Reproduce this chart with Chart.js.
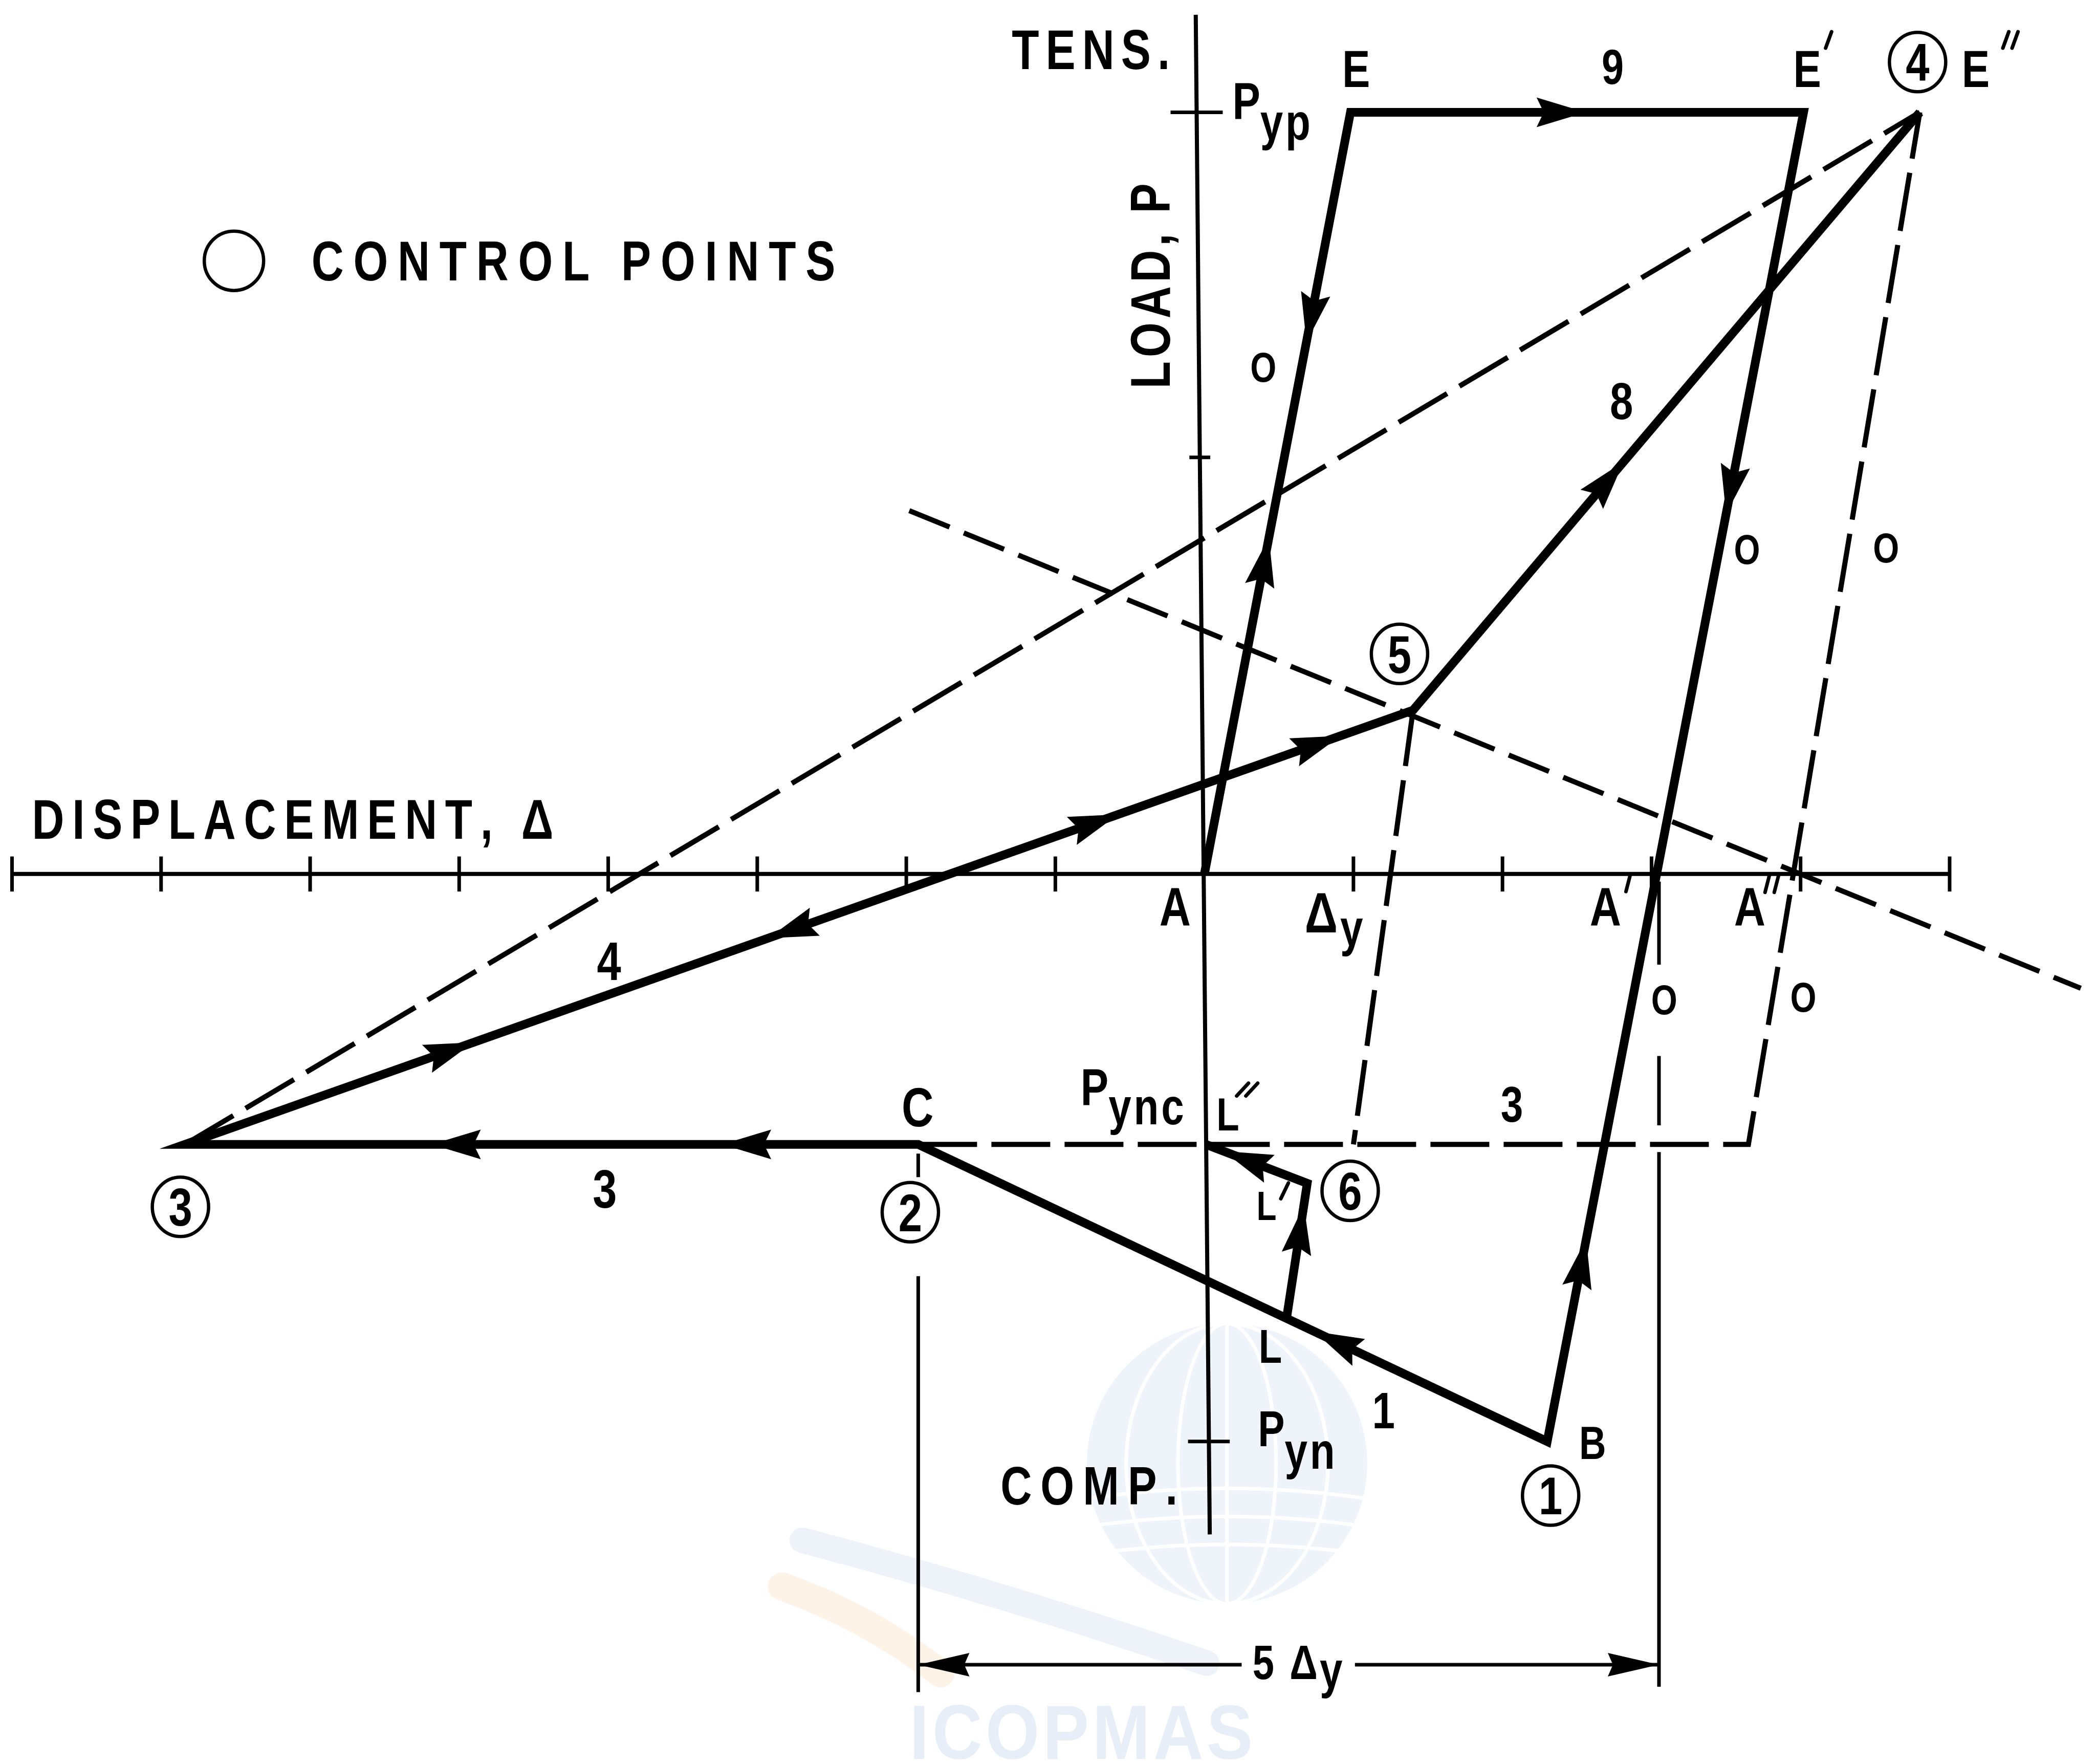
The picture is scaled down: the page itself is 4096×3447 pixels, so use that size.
<!DOCTYPE html>
<html>
<head>
<meta charset="utf-8">
<title>Hysteresis path: load P vs displacement</title>
<style>
    html, body { margin: 0; padding: 0; background: #ffffff; overflow: hidden; }
    canvas { display: block; }
</style>
</head>
<body>
<canvas id="myChart" width="4096" height="3447"></canvas>
<script src="https://cdn.jsdelivr.net/npm/chart.js"></script>
<script>
// displacement in multiples of the yield displacement (Δy), load as a fraction of Pyp

// main path: A, E, E', B (1), C (2), point 3, point 5, E'' (4)
const mainPath = [
    { x: 0.00, y: 0.000 },
    { x: 0.98, y: 1.000 },
    { x: 4.02, y: 1.000 },
    { x: 2.30, y: -0.745 },
    { x: -1.92, y: -0.355 },
    { x: -6.84, y: -0.355 },
    { x: 1.40, y: 0.215 },
    { x: 4.80, y: 1.000 }
];

// partial reload L -> L' (6) -> L''
const innerPath = [
    { x: 0.55, y: -0.585 },
    { x: 0.69, y: -0.406 },
    { x: 0.01, y: -0.355 }
];

// dashed construction lines
const envelopeLine = [{ x: -6.84, y: -0.355 }, { x: 4.80, y: 1.000 }];
const controlLine = [{ x: -1.98, y: 0.477 }, { x: 5.88, y: -0.150 }];
const unloadLine5 = [{ x: 1.40, y: 0.215 }, { x: 1.00, y: -0.355 }];
const pyncLine = [{ x: -1.92, y: -0.355 }, { x: 3.65, y: -0.355 }, { x: 4.80, y: 1.000 }];

// axes
const dispAxis = [{ x: -8, y: 0 }, { x: 5, y: 0 }];
const dispTicks = [-8, -7, -6, -5, -4, -3, -2, -1, 1, 2, 3, 4, 5];
const loadAxis = [{ x: -0.058, y: 1.128 }, { x: 0.036, y: -0.867 }];
const loadTicks = [1.0, 0.547, -0.745];          // Pyp, intermediate, Pyn
const loadTickHalf = [0.175, 0.07, 0.14];

// 5Δy dimension
const dimLeftX = -1.92;
const dimRightX = 3.05;
const dimY = -1.038;
const dimGap = [0.25, 1.01];
const extLeft = [[-0.367, -0.398], [-0.528, -1.074]];
const extRight = [[-0.010, -0.119], [-0.239, -0.330], [-0.365, -1.067]];

// circled control points
const controlPoints = [
    { n: '1', x: 2.323, y: -0.816 },
    { n: '2', x: -1.973, y: -0.444 },
    { n: '3', x: -6.870, y: -0.437 },
    { n: '4', x: 4.785, y: 1.066 },
    { n: '5', x: 1.309, y: 0.289 },
    { n: '6', x: 0.978, y: -0.416 }
];

const X_MIN = -8.0807, X_MAX = 5.9821, Y_MIN = -1.1684, Y_MAX = 1.1474;
const FONT = '"Liberation Sans", Arial, "DejaVu Sans", sans-serif';

// direction arrows along the path segments
const P = mainPath;
const Q = innerPath;
const arrowMarks = [
    { from: P[1], to: P[2], at: 0.465 },
    { from: P[1], to: P[0], at: 0.27 },
    { from: P[0], to: P[1], at: 0.41 },
    { from: P[2], to: P[3], at: 0.284 },
    { from: P[3], to: P[2], at: 0.134 },
    { from: P[3], to: P[4], at: 0.335 },
    { from: P[4], to: P[5], at: 0.234 },
    { from: P[4], to: P[5], at: 0.63 },
    { from: P[5], to: P[6], at: 0.216 },
    { from: P[6], to: P[5], at: 0.506 },
    { from: P[5], to: P[6], at: 0.741 },
    { from: P[5], to: P[6], at: 0.922 },
    { from: P[6], to: P[7], at: 0.384 },
    { from: Q[0], to: Q[1], at: 0.66 },
    { from: Q[1], to: Q[2], at: 0.6 }
];

const labels = [
    { t: 'TENS.', x: -0.762, y: 1.057, size: 109, align: 'center', spacing: 0.15 },
    { t: 'P', x: 0.188, y: 0.991, size: 102, sub: 'yp', subDy: 40 },
    { t: 'E', x: 1.018, y: 1.033, size: 102, align: 'center' },
    { t: '9', x: 2.740, y: 1.037, size: 97, align: 'center' },
    { t: 'E', x: 4.045, y: 1.033, size: 102, align: 'center' },
    { t: 'E', x: 5.175, y: 1.033, size: 102, align: 'center' },
    { t: 'CONTROL POINTS', x: -5.991, y: 0.779, size: 109, spacing: 0.215 },
    { t: 'O', x: 0.395, y: 0.646, size: 82, align: 'center' },
    { t: 'O', x: 3.641, y: 0.407, size: 82, align: 'center' },
    { t: 'O', x: 4.574, y: 0.409, size: 82, align: 'center' },
    { t: 'O', x: 3.085, y: -0.184, size: 82, align: 'center' },
    { t: 'O', x: 4.018, y: -0.181, size: 82, align: 'center' },
    { t: '8', x: 2.798, y: 0.597, size: 102, align: 'center' },
    { t: 'DISPLACEMENT, Δ', x: -7.866, y: 0.046, size: 109, spacing: 0.18 },
    { t: 'A', x: -0.197, y: -0.068, size: 106, align: 'center' },
    { t: 'Δ', x: 0.673, y: -0.077, size: 112, sub: 'y', subDy: 26, subGap: 5 },
    { t: 'A', x: 2.691, y: -0.068, size: 106, align: 'center' },
    { t: 'A', x: 3.659, y: -0.068, size: 106, align: 'center' },
    { t: '4', x: -3.995, y: -0.139, size: 106, align: 'center' },
    { t: '3', x: -4.023, y: -0.438, size: 106, align: 'center' },
    { t: 'C', x: -1.924, y: -0.331, size: 108, align: 'center' },
    { t: 'P', x: -0.830, y: -0.304, size: 102, sub: 'ync', subDy: 37 },
    { t: 'L', x: 0.081, y: -0.337, size: 91 },
    { t: '3', x: 2.063, y: -0.325, size: 98, align: 'center' },
    { t: 'L', x: 0.350, y: -0.454, size: 80 },
    { t: 'L', x: 0.364, y: -0.642, size: 93 },
    { t: '1', x: 1.202, y: -0.728, size: 100, align: 'center' },
    { t: 'B', x: 2.605, y: -0.768, size: 91, align: 'center' },
    { t: 'P', x: 0.359, y: -0.751, size: 98, sub: 'yn', subDy: 44 },
    { t: 'COMP.', x: -1.368, y: -0.828, size: 106, spacing: 0.2 },
    { t: '5Δ', x: 0.323, y: -1.057, size: 95, spacing: 0.4, sub: 'y', subDy: 17, subGap: 4 }
];

// prime strokes: count and tilt from vertical
const primeMarks = [
    { x: 4.188, y: 1.095, n: 1, tilt: 0.35 },
    { x: 5.408, y: 1.095, n: 2, tilt: 0.35 },
    { x: 2.843, y: -0.012, n: 1, tilt: 0.25 },
    { x: 3.807, y: -0.013, n: 2, tilt: 0.25 },
    { x: 0.287, y: -0.283, n: 2, tilt: 0.75 },
    { x: 0.538, y: -0.416, n: 1, tilt: 0.45 }
];

function line(data, width, dash) {
    return {
        data,
        showLine: true,
        borderColor: '#000000',
        backgroundColor: '#000000',
        borderWidth: width,
        borderDash: dash || [],
        borderJoinStyle: 'miter',
        borderCapStyle: 'butt',
        pointRadius: 0,
        pointHoverRadius: 0,
        fill: false,
        tension: 0
    };
}

function drawText(ctx, text, x, y, size, opt) {
    const o = Object.assign({ align: 'left', squeeze: 0.8, spacing: 0.2, weight: 'bold' }, opt || {});
    ctx.font = `${o.weight} ${size}px ${FONT}`;
    const chars = Array.from(text);
    const gap = o.spacing * size;
    const widths = chars.map(c => ctx.measureText(c).width);
    const total = (widths.reduce((a, b) => a + b, 0) + gap * (chars.length - 1)) * o.squeeze;
    let left = x;
    if (o.align === 'center') left = x - total / 2;
    if (o.align === 'right') left = x - total;
    ctx.save();
    ctx.translate(left, y);
    ctx.scale(o.squeeze, 1);
    ctx.textAlign = 'left';
    ctx.textBaseline = 'alphabetic';
    let cx = 0;
    chars.forEach((c, i) => {
        ctx.fillText(c, cx, 0);
        cx += widths[i] + gap;
    });
    ctx.restore();
    return left + total;
}

function drawArrow(ctx, x1, y1, x2, y2, at, len, half, notch, tipAnchor) {
    const ang = Math.atan2(y2 - y1, x2 - x1);
    const cx = x1 + (x2 - x1) * at;
    const cy = y1 + (y2 - y1) * at;
    const tip = tipAnchor ? 0 : len / 2;
    ctx.save();
    ctx.translate(cx, cy);
    ctx.rotate(ang);
    ctx.beginPath();
    ctx.moveTo(tip, 0);
    ctx.lineTo(tip - len, -half);
    ctx.lineTo(tip - len + notch, 0);
    ctx.lineTo(tip - len, half);
    ctx.closePath();
    ctx.fill();
    ctx.restore();
}

const datasets = [];

// axes and ticks
datasets.push(line(dispAxis, 8));
datasets.push(line(loadAxis, 8));
dispTicks.forEach(k => datasets.push(line([{ x: k, y: -0.023 }, { x: k, y: 0.023 }], 7)));
loadTicks.forEach((v, i) => {
    const a = loadAxis[0], b = loadAxis[1];
    const cx = a.x + (b.x - a.x) * (v - a.y) / (b.y - a.y);
    datasets.push(line([{ x: cx - loadTickHalf[i], y: v }, { x: cx + loadTickHalf[i], y: v }], 7));
});

// dimension and extension lines
extLeft.forEach(s => datasets.push(line([{ x: dimLeftX, y: s[0] }, { x: dimLeftX, y: s[1] }], 7)));
extRight.forEach(s => datasets.push(line([{ x: dimRightX, y: s[0] }, { x: dimRightX, y: s[1] }], 7)));
datasets.push(line([{ x: dimLeftX, y: dimY }, { x: dimGap[0], y: dimY }], 7));
datasets.push(line([{ x: dimGap[1], y: dimY }, { x: dimRightX, y: dimY }], 7));

// dashed construction lines
datasets.push(line(envelopeLine, 10, [110, 28]));
datasets.push(line(controlLine, 10, [85, 30]));
datasets.push(line(unloadLine5, 10, [110, 28]));
datasets.push(line(pyncLine, 10, [115, 28]));

// load path
datasets.push(line(mainPath, 17));
datasets.push(line(innerPath, 17));

const watermark = {
    id: 'watermark',
    beforeDatasetsDraw(chart) {
        const { ctx } = chart;
        const gx = chart.scales.x.getPixelForValue(0.152);
        const gy = chart.scales.y.getPixelForValue(-0.774);
        const r = 274;
        ctx.save();
        ctx.lineCap = 'round';
        ctx.strokeStyle = '#fdf3e6';
        ctx.lineWidth = 55;
        ctx.beginPath();
        ctx.moveTo(gx - 870, gy + 240);
        ctx.quadraticCurveTo(gx - 700, gy + 300, gx - 560, gy + 410);
        ctx.stroke();
        ctx.strokeStyle = '#eef3f9';
        ctx.lineWidth = 50;
        ctx.beginPath();
        ctx.moveTo(gx - 830, gy + 150);
        ctx.quadraticCurveTo(gx - 450, gy + 250, gx - 40, gy + 390);
        ctx.stroke();

        ctx.fillStyle = '#eff4fa';
        ctx.beginPath();
        ctx.arc(gx, gy, r, 0, Math.PI * 2);
        ctx.fill();
        ctx.strokeStyle = '#ffffff';
        ctx.lineWidth = 7;
        [0.35, 0.72].forEach(f => {
            ctx.beginPath();
            ctx.ellipse(gx, gy, r * f, r, 0, 0, Math.PI * 2);
            ctx.stroke();
        });
        ctx.beginPath();
        ctx.moveTo(gx, gy - r);
        ctx.lineTo(gx, gy + r);
        ctx.stroke();
        [0.25, 0.45, 0.65].forEach(f => {
            ctx.beginPath();
            ctx.moveTo(gx - r, gy + r * f);
            ctx.quadraticCurveTo(gx, gy + r * f - 40, gx + r, gy + r * f);
            ctx.stroke();
        });
        ctx.fillStyle = '#e7eef7';
        drawText(ctx, 'ICOPMAS', gx - 285, gy + 577, 150, { align: 'center', squeeze: 0.9, spacing: 0.05 });
        ctx.restore();
    }
};

const marks = {
    id: 'marks',
    afterDatasetsDraw(chart) {
        const { ctx } = chart;
        const xs = chart.scales.x, ys = chart.scales.y;
        const px = v => xs.getPixelForValue(v);
        const py = v => ys.getPixelForValue(v);
        ctx.save();
        ctx.fillStyle = '#000000';
        ctx.strokeStyle = '#000000';

        arrowMarks.forEach(a => {
            drawArrow(ctx, px(a.from.x), py(a.from.y), px(a.to.x), py(a.to.y), a.at, 96, 29, 14, false);
        });
        // dimension arrowheads
        drawArrow(ctx, px(dimGap[0]), py(dimY), px(dimLeftX), py(dimY), 1, 100, 23, 10, true);
        drawArrow(ctx, px(dimGap[1]), py(dimY), px(dimRightX), py(dimY), 1, 100, 23, 10, true);

        // circled control points
        ctx.lineWidth = 6.5;
        controlPoints.forEach(p => {
            const cx = px(p.x), cy = py(p.y);
            ctx.beginPath();
            ctx.ellipse(cx, cy, 55, 58, 0, 0, Math.PI * 2);
            ctx.stroke();
            drawText(ctx, p.n, cx, cy + 37, 104, { align: 'center' });
        });

        // legend marker
        ctx.beginPath();
        ctx.arc(px(-6.511), py(0.805), 58, 0, Math.PI * 2);
        ctx.stroke();

        labels.forEach(l => {
            const end = drawText(ctx, l.t, px(l.x), py(l.y), l.size, l);
            if (l.sub) drawText(ctx, l.sub, end + (l.subGap || 0), py(l.y) + l.subDy, 100, { spacing: 0.06 });
        });

        // vertical axis title
        ctx.save();
        ctx.translate(px(-0.233), py(0.772));
        ctx.rotate(-Math.PI / 2);
        drawText(ctx, 'LOAD, P', 0, 0, 109, { align: 'center', spacing: 0.09 });
        ctx.restore();

        // prime marks
        ctx.lineWidth = 7;
        ctx.lineCap = 'round';
        primeMarks.forEach(m => {
            const cx = px(m.x), cy = py(m.y);
            const dx = Math.sin(m.tilt) * 17, dy = Math.cos(m.tilt) * 17;
            for (let i = 0; i < m.n; i++) {
                const ox = (i - (m.n - 1) / 2) * 18;
                ctx.beginPath();
                ctx.moveTo(cx + ox - dx, cy + dy);
                ctx.lineTo(cx + ox + dx, cy - dy);
                ctx.stroke();
            }
        });
        ctx.restore();
    }
};

const ctx = document.getElementById('myChart');

new Chart(ctx, {
    type: 'scatter',
    data: { datasets },
    options: {
        responsive: false,
        animation: false,
        devicePixelRatio: 1,
        events: [],
        layout: { padding: 0 },
        scales: {
            x: { type: 'linear', min: X_MIN, max: X_MAX, display: false },
            y: { type: 'linear', min: Y_MIN, max: Y_MAX, display: false }
        },
        plugins: {
            legend: { display: false },
            tooltip: { enabled: false }
        }
    },
    plugins: [watermark, marks]
});
</script>
</body>
</html>
